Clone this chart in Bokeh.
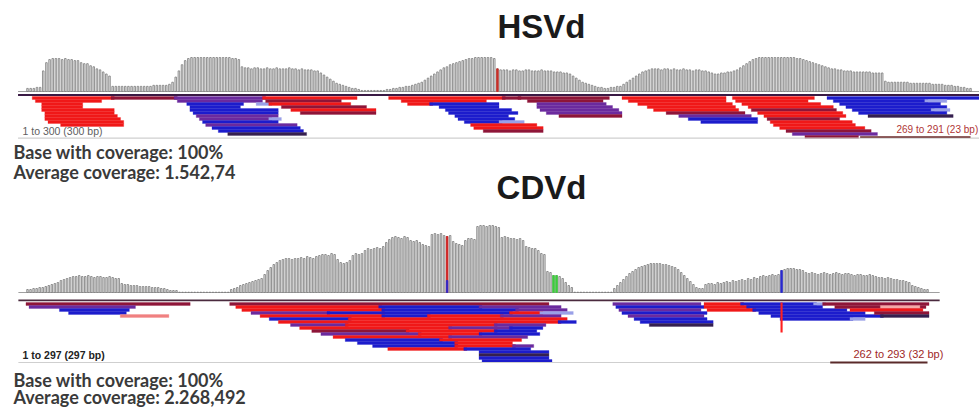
from bokeh.plotting import figure
from bokeh.models import Range1d, Label, ColumnDataSource
from bokeh.embed import file_html
from bokeh.resources import INLINE

# ---------------- data ----------------
hsvd_title = "HSVd"
cdvd_title = "CDVd"
hsvd_stats = ["Base with coverage: 100%", "Average coverage: 1.542,74"]
cdvd_stats = ["Base with coverage: 100%", "Average coverage: 2.268,492"]
hsvd_len = 300
cdvd_len = 297
hsvd_span_label = "1 to 300 (300 bp)"
cdvd_span_label = "1 to 297 (297 bp)"
hsvd_sel = (269, 291)
cdvd_sel = (262, 293)
hsvd_sel_label = "269 to 291 (23 bp)"
cdvd_sel_label = "262 to 293 (32 bp)"

# per-base coverage (relative units)
hsvd_cov = [
    3, 3, 3, 4, 4,
    20, 28, 31, 32, 32, 32, 31, 32, 31, 31, 30, 30,
    28, 27, 27, 25, 24, 22, 21, 19, 17, 15,
    5, 5, 5, 5, 5, 5, 5, 5, 5, 5, 5, 5, 5, 6, 6, 6, 6, 6, 7,
    9, 14, 20, 26, 30, 32,
    33, 33, 33, 33, 33, 33, 33, 33, 33, 33, 33, 33, 33, 32, 32, 31,
    24, 23, 23, 22, 23, 23, 22, 22, 23, 22, 22, 23, 22, 22, 22, 23, 22, 22, 21, 22, 21, 21, 21, 20, 20,
    18, 16, 14, 12, 10, 8, 7, 6, 5, 4, 3, 3,
    2, 1, 1, 1, 1, 1, 1, 1, 1, 2, 2,
    3, 3, 4, 4, 5, 5, 6, 7, 8, 9, 11, 13,
    15, 17, 19, 21, 23, 24, 26, 27, 28, 29, 30, 31, 32, 32, 33, 33,
    33, 33, 33, 33, 32,
    22,
    21, 21, 21, 20, 21, 21, 20, 20, 21, 21, 20, 20, 20, 21, 20, 20, 20, 19, 19, 19, 18, 18,
    17, 15, 13, 11, 9, 8, 7, 6, 5,
    4, 4, 3, 3, 4, 4, 5, 5,
    7, 9, 11, 13, 15, 17, 19, 20, 21, 22, 22,
    22, 21, 22, 22, 21, 22, 21, 21, 22, 21, 21, 20, 21, 21, 20, 20,
    19, 18, 17, 17, 18, 18, 19, 19, 20, 21,
    23, 25, 27, 29, 31, 32,
    33, 33, 33, 33, 33, 33, 33, 33, 33, 33, 33, 33, 32, 32, 31, 30,
    29, 28, 27, 26, 25, 24, 23, 22, 22, 21, 21, 20, 20,
    20, 19, 19, 19, 19, 19, 19, 18, 18, 18, 18,
    10, 9, 9, 9, 9, 9, 9, 9, 8, 8, 8, 8, 8, 8, 8, 7, 7, 7, 7, 6, 6, 6, 5, 5, 4, 4, 3, 3,
]
hsvd_var_pos = [150]
hsvd_var_color = ["#c8302a"]

cdvd_cov = [
    3, 3, 4, 4, 5, 5, 6, 7, 8, 9, 10, 12, 13, 14, 15,
    16, 16, 17, 16, 16, 17, 16, 15, 16, 16, 15, 15, 16, 15, 14, 14,
    9, 8, 8, 7, 7, 7, 6, 6, 6, 6, 5, 5, 5, 4, 4,
    3, 2, 2, 2,
    0.3, 0.3, 0.3, 0.3, 0.3, 0.3, 0.3, 0.3, 0.3, 0.3, 0.3, 0.3, 0.3, 0.3, 0.3, 0.3, 0.3,
    3, 4, 5, 7, 8, 9, 10, 11, 12, 13, 14,
    18, 22, 25, 28, 30, 32, 33, 34, 34, 33, 34, 34,
    35, 34, 36, 35, 34, 36, 37, 38, 38, 37,
    39, 38, 33,
    30, 29, 30, 32,
    37, 39, 38, 39,
    42, 44, 43, 44, 45, 44, 46,
    50, 53, 55, 56, 55, 54, 56, 55, 52, 51, 52, 50, 48, 47, 46,
    58, 59, 58, 59, 57,
    56,
    57, 51, 49, 48,
    47, 52, 54, 54, 53,
    66, 67, 67, 66, 67, 67, 66, 65,
    55, 56, 55, 54,
    54, 53, 54, 52,
    46, 45, 44, 44, 42,
    39, 38,
    21, 20,
    17, 17, 16,
    14, 10, 7, 5,
    0.3, 0.3, 0.3, 0.3, 0.3, 0.3, 0.3, 0.3, 0.3, 0.3, 0.3, 0.3, 0.3,
    4, 7, 10, 13, 16, 19, 21, 23, 25, 26, 27, 28, 29,
    29, 29, 29, 28, 28, 27, 26, 25, 23, 20, 17, 14, 11, 8,
    5, 4, 4,
    8, 9, 9, 8, 10, 9, 10, 11, 10, 12, 11, 12, 13, 12, 14, 13, 15, 14, 16,
    17, 16, 17, 18, 17, 18,
    22,
    23, 24, 24, 24, 23, 23, 22,
    20, 19, 20, 19, 18, 19, 20, 19, 18, 19, 20, 19, 18, 19, 19,
    18, 17, 18, 18, 17, 17, 18, 17, 16,
    15, 15, 14, 15, 14, 13, 13, 12, 12, 11, 10,
    7, 6, 5, 4, 3, 3,
]
cdvd_var_pos = [139, 174, 175, 249]
cdvd_var_color = ["#d42020", "#3ccf3c", "#3ccf3c", "#2a2ad0"]

# mapped reads: (row, first base, last base, kind)
hsvd_reads = [
    (1, 3, 28, "r"), (1, 28, 48, "m"), (2, 4, 24, "r"), (3, 6, 18, "r"), (4, 6, 18, "r"),
    (5, 6, 28, "r"), (6, 7, 28, "r"), (7, 7, 29, "r"), (8, 7, 30, "r"), (9, 8, 31, "r"),
    (10, 12, 31, "r"),
    (1, 48, 76, "p"), (2, 49, 75, "p"), (3, 52, 69, "b"), (3, 74, 78, "l"), (4, 53, 68, "b"),
    (5, 53, 80, "b"), (6, 54, 80, "b"), (7, 55, 80, "p"), (8, 56, 78, "p"), (8, 78, 81, "l"),
    (9, 57, 80, "b"), (10, 58, 86, "p"), (11, 60, 87, "b"), (12, 62, 88, "b"), (13, 65, 89, "d"),
    (1, 76, 105, "r"), (2, 77, 100, "m"), (3, 78, 103, "r"), (4, 82, 108, "m"), (5, 85, 111, "r"),
    (6, 88, 111, "m"),
    (1, 116, 152, "r"), (1, 152, 157, "m"), (2, 120, 146, "r"), (3, 122, 129, "r"), (3, 129, 150, "b"),
    (4, 132, 150, "b"), (5, 134, 154, "b"), (6, 135, 156, "b"), (7, 137, 153, "b"), (8, 138, 155, "b"),
    (9, 140, 151, "b"), (9, 151, 158, "l"), (10, 142, 162, "r"), (11, 143, 164, "r"), (12, 146, 164, "m"),
    (1, 157, 185, "m"), (2, 160, 183, "m"), (3, 163, 184, "p"), (4, 163, 186, "p"), (5, 164, 188, "p"),
    (6, 166, 189, "p"), (7, 170, 189, "m"),
    (1, 190, 222, "r"), (2, 192, 222, "r"), (3, 195, 224, "r"), (4, 198, 225, "r"), (5, 200, 226, "r"),
    (6, 204, 228, "m"), (7, 208, 230, "p"), (8, 211, 232, "b"), (9, 215, 232, "b"),
    (1, 225, 250, "r"), (2, 226, 248, "r"), (3, 228, 252, "r"), (4, 230, 256, "r"), (5, 231, 257, "m"),
    (6, 233, 259, "r"), (7, 235, 260, "r"), (8, 236, 258, "m"), (9, 237, 262, "r"), (10, 238, 263, "r"),
    (11, 240, 266, "r"), (12, 242, 268, "m"), (13, 244, 270, "p"), (14, 248, 264, "m"),
    (1, 255, 303, "b"), (2, 257, 286, "b"), (2, 286, 292, "l"), (3, 259, 290, "b"), (4, 261, 292, "b"),
    (5, 263, 288, "b"), (5, 288, 293, "l"), (6, 265, 292, "b"), (7, 268, 294, "d"),
]

cdvd_reads = [
    (1, 1, 54, "m"), (2, 2, 36, "p"), (3, 12, 34, "b"), (4, 15, 33, "b"), (5, 32, 47, "lr"),
    (1, 68, 172, "m"),
    (2, 70, 117, "r"), (2, 117, 150, "b"), (2, 150, 176, "p"),
    (3, 72, 118, "r"), (3, 118, 162, "b"), (3, 162, 178, "p"),
    (4, 75, 100, "p"), (4, 100, 160, "b"), (4, 160, 170, "r"), (4, 170, 180, "l"),
    (5, 78, 118, "r"), (5, 118, 133, "b"), (5, 133, 157, "r"), (5, 157, 176, "p"),
    (6, 81, 107, "b"), (6, 107, 178, "r"),
    (7, 84, 176, "r"), (7, 176, 181, "b"),
    (8, 88, 106, "p"), (8, 106, 155, "r"), (8, 155, 171, "p"),
    (9, 91, 140, "r"), (9, 140, 160, "p"), (9, 160, 170, "b"),
    (10, 95, 126, "m"), (10, 126, 155, "r"), (10, 155, 168, "b"),
    (11, 98, 130, "p"), (11, 130, 150, "r"), (11, 150, 169, "b"),
    (12, 102, 140, "r"), (12, 140, 165, "p"),
    (13, 106, 137, "b"), (13, 137, 163, "r"),
    (14, 110, 142, "b"), (14, 142, 160, "r"),
    (15, 115, 142, "b"), (15, 142, 161, "r"), (15, 161, 167, "p"),
    (16, 120, 145, "r"), (16, 145, 166, "b"),
    (17, 150, 172, "b"), (18, 150, 172, "d"), (19, 150, 172, "b"), (20, 151, 173, "b"),
    (1, 194, 222, "p"), (2, 195, 223, "b"), (3, 196, 222, "p"), (4, 197, 224, "b"),
    (5, 199, 223, "p"), (6, 201, 224, "b"), (7, 203, 226, "b"), (8, 206, 226, "d"),
    (1, 224, 236, "r"), (1, 236, 260, "b"), (1, 260, 263, "l"),
    (2, 224, 238, "r"), (2, 238, 262, "b"),
    (3, 225, 240, "r"), (3, 240, 270, "b"),
    (4, 242, 276, "b"), (5, 246, 282, "b"), (6, 249, 272, "b"), (6, 272, 276, "l"),
    (1, 263, 297, "m"), (2, 267, 296, "m"), (2, 282, 294, "pk"), (3, 272, 295, "r"),
    (4, 280, 297, "m"), (5, 282, 297, "d"),
]
# mismatch column in the CDVd reads: (base, first row, last row)
cdvd_mismatch = [(249, 1, 10)]

KIND_COLOR = {
    "r": "#f01818", "b": "#1c1ccc", "p": "#6b2a9e", "m": "#8e1538",
    "d": "#35204f", "l": "#9aa0e8", "lr": "#f08080", "pk": "#f4a8a8",
}

# ---------------- layout (page pixels) ----------------
W, H, OFF = 979, 407, 0


def lin(d0, p0, d1, p1, lo, hi):
    s = (d1 - d0) / (p1 - p0)
    return Range1d(start=d0 + (lo - p0) * s, end=d0 + (hi - p0) * s)


p = figure(width=W, height=H, output_backend="svg", toolbar_location=None,
           x_range=Range1d(OFF, OFF + W), y_range=Range1d(OFF + H, OFF),
           x_axis_location=None, y_axis_location=None, min_border=0)
p.grid.visible = False
p.outline_line_color = None
p.background_fill_color = "white"
p.border_fill_color = "white"

p.extra_x_ranges = {
    "hx": lin(1, 27, 300, 970, OFF, OFF + W),
    "cx": lin(1, 27, 297, 927, OFF, OFF + W),
}
p.extra_y_ranges = {
    "hcov": lin(0, 91, 33, 57, OFF + H, OFF),
    "hrow": lin(0, 93, 1, 96, OFF + H, OFF),
    "ccov": lin(0, 292, 67, 225, OFF + H, OFF),
    "crow": lin(0, 299, 1, 302, OFF + H, OFF),
}


def coverage(cov, var_pos, var_col, xr, yr, length, base_x0, base_x1):
    xs = list(range(1, len(cov) + 1))
    p.segment(x0=[base_x0], y0=[0], x1=[base_x1], y1=[0], x_range_name=xr, y_range_name=yr,
              line_color="#a0a0a0", line_width=1.2)
    p.vbar(x=xs, top=cov, bottom=0, width=0.5, x_range_name=xr, y_range_name=yr,
           fill_color="#e4e4e4", line_color="#7c7c7c", line_width=0.8)
    p.vbar(x=var_pos, top=[cov[i - 1] for i in var_pos], bottom=0, width=0.5,
           x_range_name=xr, y_range_name=yr, fill_color=var_col, line_color=var_col, line_width=0.8)


def reads(rd, xr, yr):
    src = ColumnDataSource(dict(
        left=[s - 0.5 for _, s, e, k in rd], right=[e + 0.5 for _, s, e, k in rd],
        top=[r for r, s, e, k in rd], bottom=[r + 1 for r, s, e, k in rd],
        color=[KIND_COLOR[k] for _, s, e, k in rd]))
    p.quad(left="left", right="right", top="top", bottom="bottom", source=src,
           fill_color="color", line_color="color", line_width=0.3,
           x_range_name=xr, y_range_name=yr)


# HSVd
coverage(hsvd_cov, hsvd_var_pos, hsvd_var_color, "hx", "hcov", hsvd_len, -2, hsvd_len + 4)
p.segment(x0=[-2], y0=[0.5], x1=[hsvd_len + 4], y1=[0.5], x_range_name="hx", y_range_name="hrow",
          line_color="#3a1a44", line_width=2.2)
reads(hsvd_reads, "hx", "hrow")
p.segment(x0=[-2], y0=[14.9], x1=[hsvd_len + 4], y1=[14.9], x_range_name="hx", y_range_name="hrow",
          line_color="#cfcfcf", line_width=1.2)
p.segment(x0=[hsvd_sel[0] - 4], y0=[14.5], x1=[hsvd_sel[1] + 9], y1=[14.5], x_range_name="hx",
          y_range_name="hrow", line_color="#6a2a2a", line_width=1.6)

# CDVd
coverage(cdvd_cov, cdvd_var_pos, cdvd_var_color, "cx", "ccov", cdvd_len, -2, cdvd_len + 4)
p.vbar(x=[cdvd_var_pos[0]], top=[12], bottom=0, width=0.5, x_range_name="cx", y_range_name="ccov",
       fill_color="#2a2ad0", line_color="#2a2ad0", line_width=0.8)
p.segment(x0=[-2], y0=[0.3], x1=[cdvd_len + 4], y1=[0.3], x_range_name="cx", y_range_name="crow",
          line_color="#4a2a3e", line_width=1.6)
reads(cdvd_reads, "cx", "crow")
p.quad(left=[b - 0.35 for b, r0, r1 in cdvd_mismatch], right=[b + 0.35 for b, r0, r1 in cdvd_mismatch],
       top=[r0 for b, r0, r1 in cdvd_mismatch], bottom=[r1 + 1 for b, r0, r1 in cdvd_mismatch],
       x_range_name="cx", y_range_name="crow", fill_color="#ff2020", line_color=None)
p.segment(x0=[-2], y0=[21], x1=[cdvd_sel[0] + 3], y1=[21], x_range_name="cx", y_range_name="crow",
          line_color="#cfcfcf", line_width=1.2)
p.segment(x0=[cdvd_sel[0] + 3], y0=[21], x1=[cdvd_sel[1] + 4], y1=[21], x_range_name="cx",
          y_range_name="crow", line_color="#5a2a2a", line_width=2)

# texts
for txt, y in ((hsvd_title, 26), (cdvd_title, 187)):
    p.add_layout(Label(x=541, y=y, text=txt, text_align="center", text_baseline="middle",
                       text_font="Liberation Sans", text_font_style="bold", text_font_size="33px",
                       text_color="#1a1a1a"))

for txt, y in ((hsvd_stats[0], 151), (hsvd_stats[1], 171), (cdvd_stats[0], 379), (cdvd_stats[1], 396)):
    p.add_layout(Label(x=13, y=y, text=txt, text_align="left", text_baseline="middle",
                       text_font="Lato", text_font_style="bold", text_font_size="18px",
                       text_color="#3a3a3a"))

p.add_layout(Label(x=22, y=130, text=hsvd_span_label, text_baseline="middle",
                   text_font="Liberation Sans", text_font_size="10.5px", text_color="#606060"))
p.add_layout(Label(x=896, y=128.5, text=hsvd_sel_label, text_baseline="middle",
                   text_font="Liberation Sans", text_font_size="10px", text_color="#b03535"))
p.add_layout(Label(x=22, y=354, text=cdvd_span_label, text_baseline="middle",
                   text_font="Liberation Sans", text_font_style="bold", text_font_size="10.5px",
                   text_color="#222222"))
p.add_layout(Label(x=853, y=353, text=cdvd_sel_label, text_baseline="middle",
                   text_font="Liberation Sans", text_font_size="11px", text_color="#a02828"))

open("out.html", "w").write(file_html(p, INLINE))
